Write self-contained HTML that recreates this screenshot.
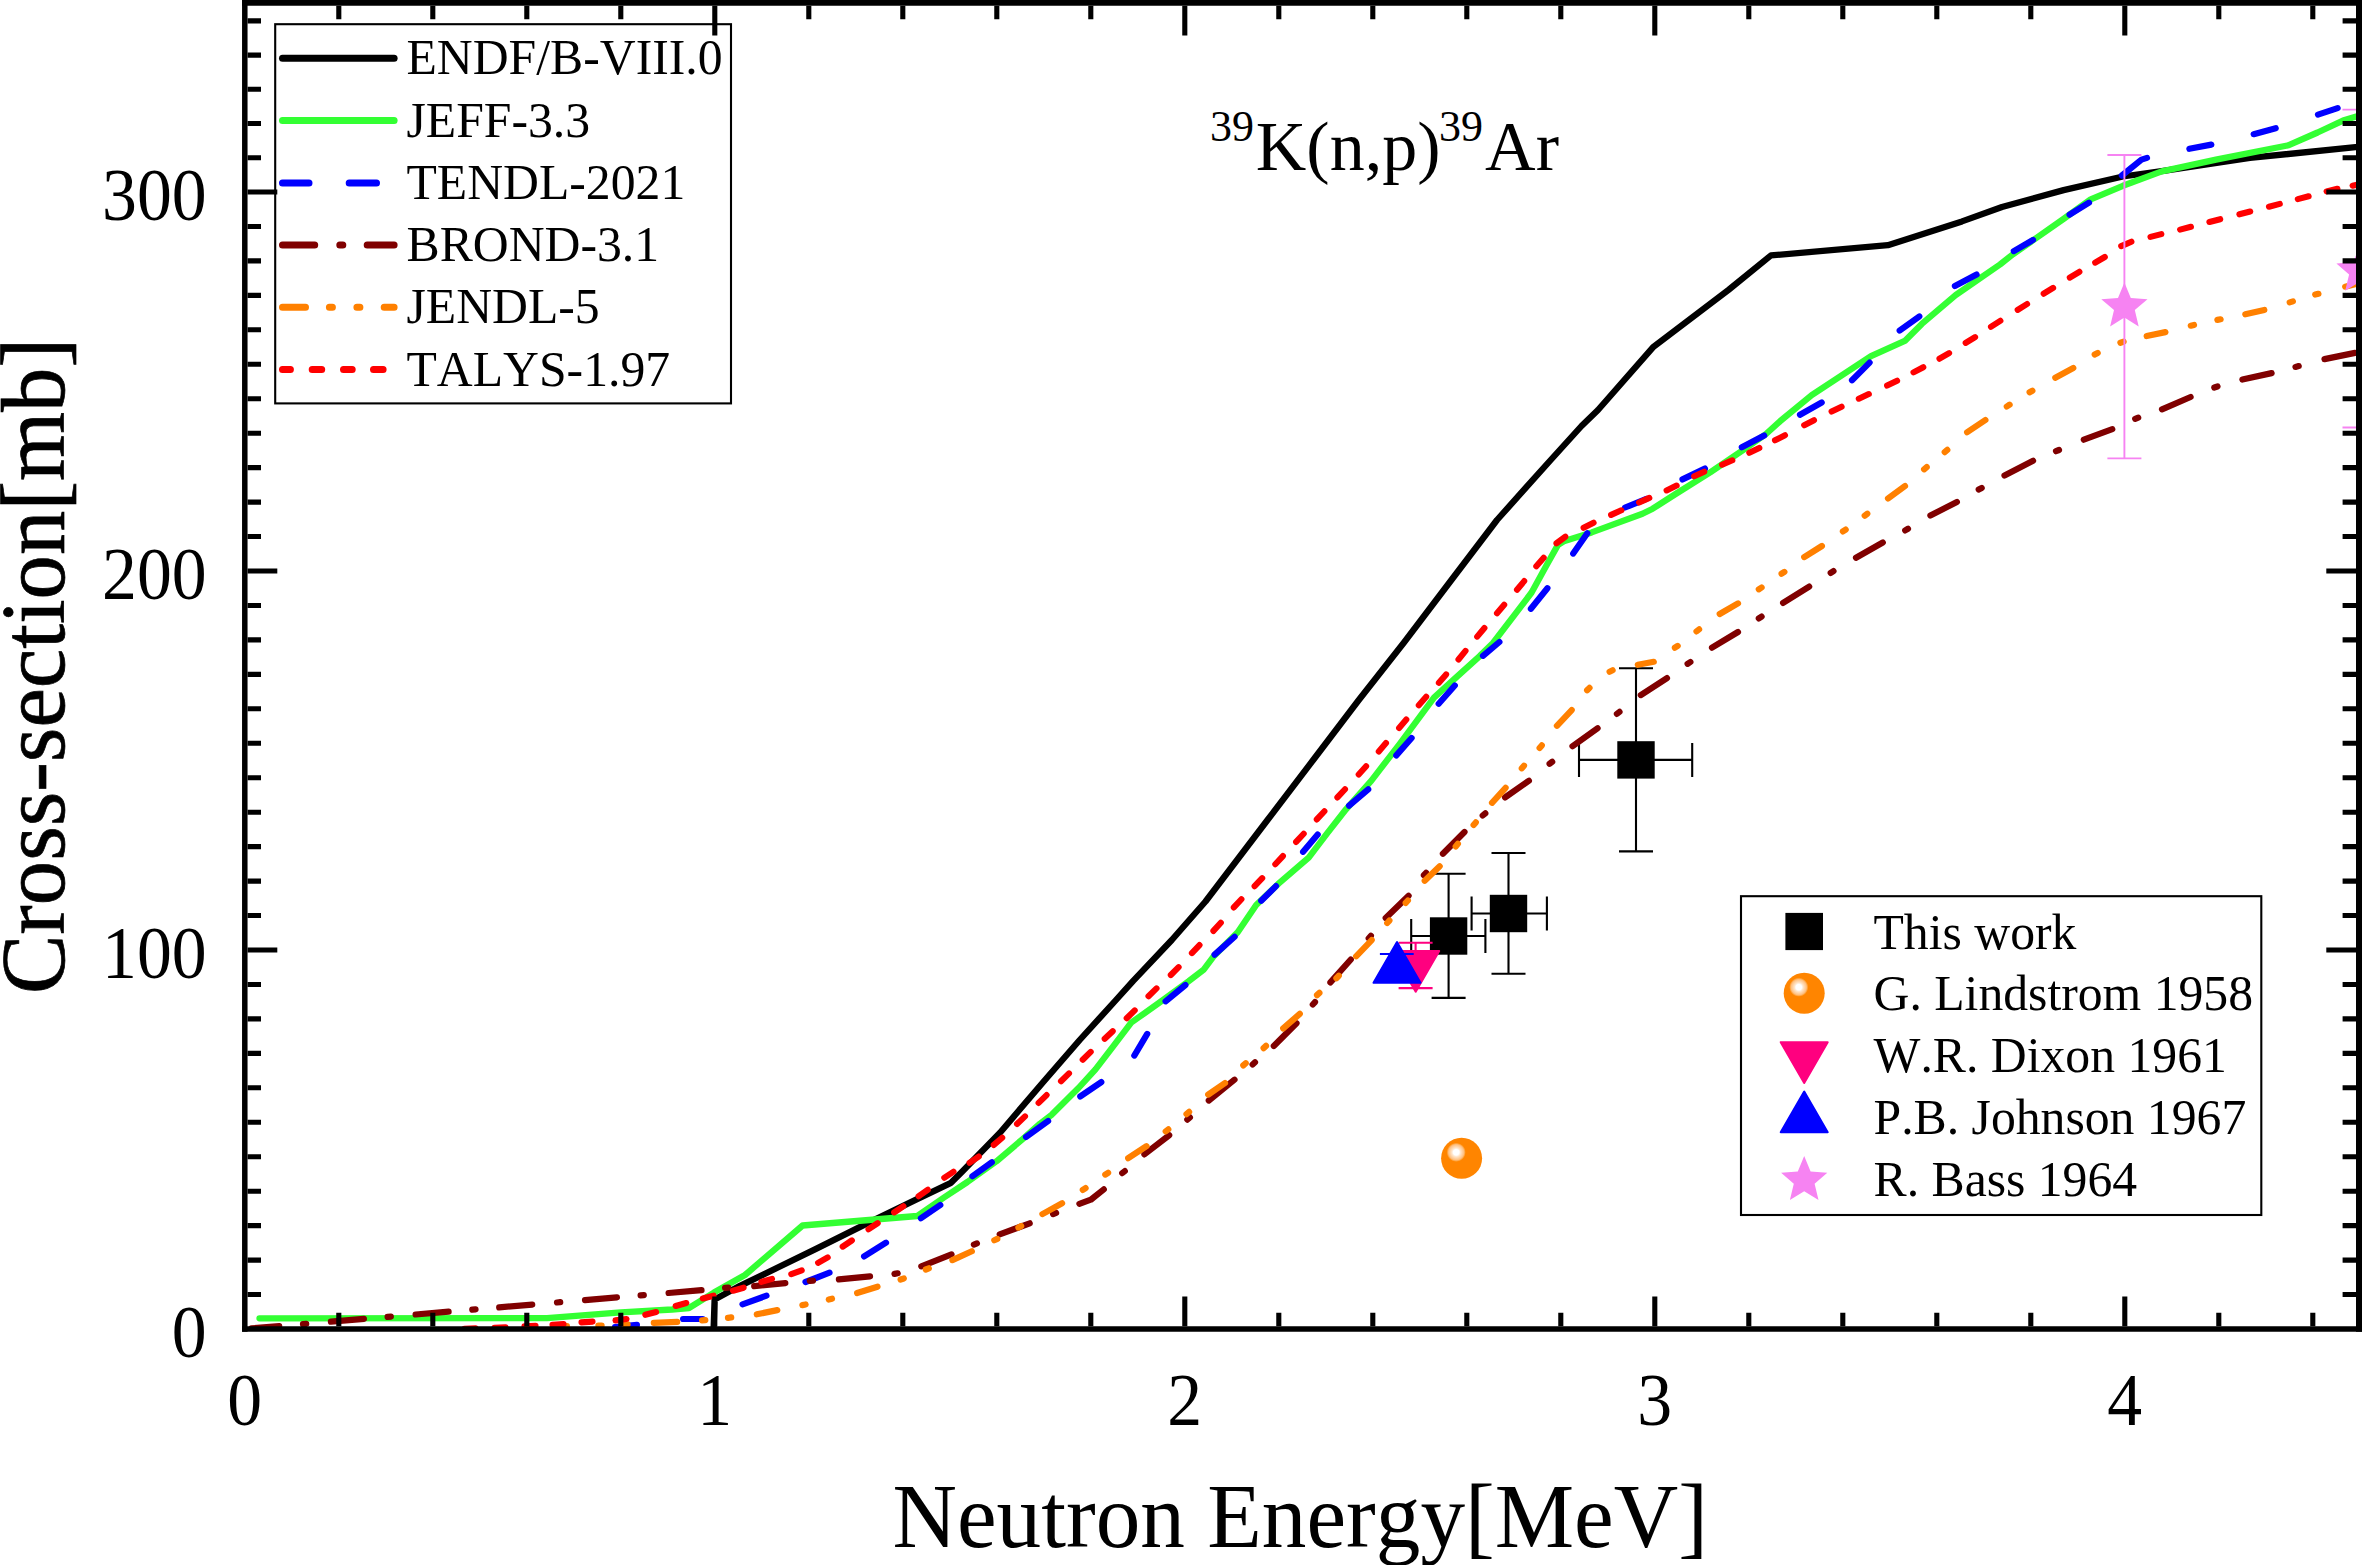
<!DOCTYPE html>
<html lang="en"><head><meta charset="utf-8"><title>39K(n,p)39Ar cross-section</title>
<style>html,body{margin:0;padding:0;background:#fff}body{width:2362px;height:1565px;overflow:hidden}svg{display:block}</style>
</head><body>
<svg width="2362" height="1565" viewBox="0 0 2362 1565" role="img" aria-label="39K(n,p)39Ar cross-section versus neutron energy">
<defs><radialGradient id="hl" cx="0.5" cy="0.5" r="0.5"><stop offset="0" stop-color="#ffffff"/><stop offset="0.3" stop-color="#ffffff"/><stop offset="0.45" stop-color="#ffe6cc"/><stop offset="0.8" stop-color="#ffc080"/><stop offset="1" stop-color="#ff8800"/></radialGradient>
<clipPath id="plot"><rect x="244.8" y="0" width="2117.2" height="1329"/></clipPath></defs>
<rect width="2362" height="1565" fill="#ffffff"/>
<g clip-path="url(#plot)">
<path d="M1448.6 873.8 V997.9 M1431.6 873.8 H1465.6 M1431.6 997.9 H1465.6" stroke="#000" stroke-width="2.1" fill="none" stroke-linecap="butt"/>
<path d="M1411.2 936 H1485.4 M1411.2 919 V953 M1485.4 919 V953" stroke="#000" stroke-width="2.1" fill="none"/>
<rect x="1429.9" y="917.3" width="37.4" height="37.4" fill="#000"/>
<path d="M1508.5 853 V973.8 M1491.5 853 H1525.5 M1491.5 973.8 H1525.5" stroke="#000" stroke-width="2.1" fill="none" stroke-linecap="butt"/>
<path d="M1471.6 913.5 H1546.9 M1471.6 896.5 V930.5 M1546.9 896.5 V930.5" stroke="#000" stroke-width="2.1" fill="none"/>
<rect x="1489.8" y="894.8" width="37.4" height="37.4" fill="#000"/>
<path d="M1636 668.3 V851.4 M1619 668.3 H1653 M1619 851.4 H1653" stroke="#000" stroke-width="2.1" fill="none" stroke-linecap="butt"/>
<path d="M1579 759.9 H1692.2 M1579 742.9 V776.9 M1692.2 742.9 V776.9" stroke="#000" stroke-width="2.1" fill="none"/>
<rect x="1617.3" y="741.2" width="37.4" height="37.4" fill="#000"/>
<path d="M713.6 1329 L714.6 1299.5 L740 1285.8 L815.5 1249.2 L869.7 1222.1 L917.1 1199.1 L951 1182.8 L961.8 1172 L1000 1132.7 L1045 1080 L1079.7 1040 L1116 1000 L1133.2 980.9 L1171.8 940 L1205.5 901.5 L1267.5 820 L1313.2 760 L1358.8 700 L1404 642.5 L1451.4 580 L1497 520 L1550.7 460 L1581.5 426 L1598 410 L1653.6 346.7 L1728.4 290 L1771 255.4 L1887.9 245.2 L1962 221.4 L2002 207 L2063.6 190.1 L2122.9 176.5 L2165.2 170.6 L2249.9 157.9 L2358 146.9" fill="none" stroke="#000000" stroke-width="6.3" stroke-linejoin="round" stroke-linecap="round" />
<path d="M259.5 1318.3 L547 1318.2 L621 1312.3 L672 1309.5 L689 1308 L713.9 1292.6 L745 1275 L802.6 1225.5 L917.1 1216 L944 1197.5 L967.4 1182 L996.5 1161.3 L1022.6 1139.1 L1040 1123.7 L1051.4 1115.1 L1078.5 1088 L1095.5 1069.3 L1112.4 1047.3 L1131 1022.8 L1139.5 1016.8 L1163.2 999.9 L1188.6 981.3 L1203.9 969.4 L1214 955.9 L1237.7 932.2 L1256.2 905 L1278.2 883.9 L1308.7 857.6 L1327.3 833.1 L1346 809.3 L1371.4 780.6 L1400.1 743.3 L1434 697.6 L1452.6 680.6 L1479.7 656.1 L1493 643 L1515.5 613.7 L1531.6 592.5 L1546 566.3 L1557.8 545.1 L1564.6 540.9 L1591.7 532.4 L1642.5 513.8 L1652.7 508.7 L1676.4 493.5 L1710.2 472.3 L1744.1 449.4 L1766 434 L1780 421.3 L1811.7 395.1 L1871 356.1 L1904.8 340.9 L1921.8 323.9 L1955.6 295.2 L1972.6 283.3 L2000 264.5 L2012.8 254.4 L2063.6 218.9 L2090.7 199.4 L2122.9 185.8 L2161.8 171.4 L2216 159.6 L2288.8 145.2 L2317.6 132.5 L2343 120.6 L2358 116" fill="none" stroke="#33ff33" stroke-width="6.3" stroke-linejoin="round" stroke-linecap="round" />
<path d="M615.1 1327.2 L636.9 1324.8 M683.1 1319 L702.6 1319 M742.5 1304.3 L766.5 1295.7 M805.5 1282 L829.5 1272.7 M864.1 1256.4 L886 1242.7 M920.9 1218.3 L940.3 1205 M972.4 1176.3 L991.8 1162.3 M1026 1137 L1048.1 1121.1 M1080.3 1096.4 L1101.3 1082.1 M1134.3 1055.6 L1147.2 1033.9 M1165.6 1001.3 L1185.4 985 M1214.6 954.6 L1234.6 936.8 M1261.2 900.8 L1276 886.1 M1303.1 851.8 L1317.7 834.6 M1349.1 805.7 L1368.2 789.3 M1396.3 755.4 L1411.6 738 M1438.7 703.7 L1454.8 685.5 M1483 655.8 L1499.4 642 M1530.9 608.8 L1547.4 588.2 M1573.2 553.6 L1587.3 533.2 M1625.1 507.5 L1646.4 498.9 M1682.5 479.4 L1704.9 468.6 M1741.8 447.2 L1764.2 435.6 M1800 414.7 L1821.7 402.5 M1852 380.2 L1869.6 362.6 M1899.7 330.6 L1919.3 316.4 M1954.9 286 L1976.6 274.6 M2013.8 251.1 L2033 239.9 M2069.6 214.7 L2089 202.7 M2121.9 175.5 L2141.5 159.6 L2147 157.9 M2189.4 148.8 L2211.3 144.6 M2253.7 134.2 L2275.7 128.2 M2318 114.6 L2337.6 108.1" fill="none" stroke="#0000ff" stroke-width="6.2" stroke-linecap="round" stroke-linejoin="round"/>
<path d="M251.6 1328.4 L279.2 1326.1 M330.9 1321.7 L363.9 1318.9 M415.6 1314.5 L448.6 1311.7 M499.2 1307.4 L532.2 1304.6 M585 1300.1 L616.9 1297.4 M668.6 1293 L701.5 1290.2 M303 1324.1 L306.2 1323.8 M387.6 1316.9 L390.8 1316.6 M472.3 1309.7 L475.5 1309.4 M557 1302.5 L560.2 1302.2 M640.6 1295.3 L643.8 1295.1 M725.1 1287.9 L728.3 1287.7 M754.2 1286.2 L785.3 1283.1 M809.8 1280.8 L813 1280.6 M838.9 1279.4 L870 1276.3 M894.5 1273.9 L897.7 1273.3 M921.3 1266.4 L951.5 1254.4 M973.9 1244.6 L976.9 1243.4 M999.7 1234.4 L1029.7 1223.3 M1053.1 1214.1 L1056.1 1212.9 M1079.4 1203.8 L1090.8 1199.7 L1103.8 1189.4 M1122.2 1173.1 L1124.8 1171.1 M1144.4 1154.4 L1169.2 1135.2 M1187.3 1119.6 L1189.9 1117.4 M1208.8 1100.5 L1234.5 1079.7 M1252.6 1064.5 L1255 1062.3 M1273.8 1046 L1296.5 1023.3 M1312.8 1004.5 L1315 1002.1 M1330.4 982.4 L1350.8 959.5 M1368.7 938.3 L1370.9 935.9 M1385.7 918 L1408.6 895.8 M1423.9 875.2 L1426.1 872.8 M1442.9 853.7 L1464.5 832 M1482.7 815.5 L1485.3 813.3 M1505.1 797.4 L1528.9 780.7 M1549.6 763.8 L1552.2 761.8 M1572.5 746.2 L1597.6 728.2 M1616.9 713.9 L1619.5 711.9 M1640.8 695.1 L1667 678.1 M1687.6 663.8 L1690.4 662 M1712 647.7 L1738 632 M1758.8 618.4 L1761.6 616.6 M1783.1 602.9 L1809.2 586.6 M1830.7 572.9 L1833.5 571.1 M1856 557.8 L1882.8 542.5 M1905.2 530.4 L1908 528.8 M1930.4 515.6 L1956.9 501.9 M1978.7 489.5 L1981.7 487.9 M2004.5 475.6 L2033.1 460.8 M2056 451.2 L2059 450 M2083.8 439.7 L2112.3 429.2 M2135.2 418.9 L2138.2 417.7 M2162 409.3 L2190.6 397 M2214.3 387.5 L2217.5 386.5 M2242.4 379.5 L2271.6 373.1 M2295.5 366.9 L2298.7 366.1 M2324.5 359.1 L2355 352.9" fill="none" stroke="#800000" stroke-width="6.2" stroke-linecap="round" stroke-linejoin="round"/>
<path d="M554.1 1326.4 L566.9 1326.1 M598.4 1325.5 L601.6 1325.5 M624.4 1324.6 L627.6 1324.4 M653.8 1322.9 L677.2 1321.9 M702.1 1320.3 L705.3 1320.1 M728 1317.8 L731.2 1317.4 M756.8 1314.3 L777.3 1310.1 M802.4 1305.1 L805.6 1304.5 M828.8 1299.5 L832 1298.7 M857.1 1293 L877.5 1286.7 M900.6 1279.5 L903.8 1278.5 M925.8 1269.5 L928.8 1268.3 M952.4 1260.1 L971.8 1251.3 M994.3 1240.3 L997.3 1238.9 M1018.4 1227.6 L1021.2 1226 M1042.4 1214.1 L1062.1 1203.3 M1082.8 1189.9 L1085.6 1188.1 M1105.3 1174.6 L1108.1 1172.8 M1128.2 1158.2 L1146.5 1146.2 M1165.7 1131.4 L1168.3 1129.4 M1186.5 1114.1 L1189.1 1111.9 M1208.2 1094.6 L1225 1083 M1243.3 1065.4 L1245.7 1063.2 M1263.6 1048.1 L1266 1045.9 M1283.2 1028.4 L1299.8 1013.8 M1317 995.1 L1319.4 992.9 M1336.4 978.2 L1338.8 975.8 M1356.1 956.3 L1371.7 940.1 M1387.2 923 L1389.4 920.6 M1405.7 902.9 L1407.9 900.5 M1424.7 880.8 L1439.7 866.3 M1455.7 846.4 L1457.9 843.8 M1473.6 825 L1475.8 822.4 M1492 802.8 L1505.6 787.9 M1521.8 768.3 L1524 765.7 M1539.6 748 L1541.8 745.4 M1556.9 725.8 L1571.7 710.1 M1587.1 690.3 L1589.5 687.9 M1609.6 671.7 L1612.6 670.3 M1637.8 664.8 L1653.8 661.8 M1674.9 647.7 L1677.7 645.9 M1696.5 631.4 L1699.1 629.4 M1719.7 614 L1738 603.4 M1758.8 589.3 L1761.6 587.5 M1781.6 573.7 L1784.4 571.9 M1804.2 557.1 L1821.9 546 M1842.9 531.4 L1845.7 529.6 M1864.7 515.7 L1867.3 513.7 M1888 498.5 L1905 486 M1924.1 469.3 L1926.7 467.1 M1944.7 452.1 L1947.3 449.9 M1967.1 432.3 L1985.4 420 M2006.8 406.5 L2009.6 404.7 M2029.6 392.3 L2032.4 390.7 M2055.3 377.7 L2073.3 368 M2094.7 354.6 L2097.7 353 M2120.4 342.7 L2123.6 341.7 M2146.7 336 L2165.4 332.1 M2190.8 325.7 L2194 324.9 M2217.4 319.9 L2220.6 319.3 M2245.3 314.3 L2264.3 309.9 M2289.7 302.4 L2292.9 301.4 M2315.2 294.6 L2318.4 293.8 M2345.2 286.7 L2355 284.3" fill="none" stroke="#ff8000" stroke-width="6.2" stroke-linecap="round" stroke-linejoin="round"/>
<path d="M464.5 1328.7 L475.5 1328.3 M494.5 1327.7 L505.5 1327.3 M524.5 1326.3 L535.5 1325.7 M552.5 1324.9 L563.5 1324.1 M581.5 1322.4 L592.5 1321.6 M615.5 1320.4 L626.5 1319 M645.3 1314.8 L656.1 1312 M675.7 1306 L686.3 1303 M702.8 1298.5 L713.6 1295.7 M733 1290.7 L743.6 1287.7 M761.4 1281.9 L772 1278.9 M791.3 1274.2 L801.7 1270.4 M818.1 1262.8 L827.7 1257.4 M842.7 1246.6 L851.9 1240.4 M868.5 1229.3 L877.7 1223.1 M894.2 1212.4 L903.4 1206.2 M918.6 1196.2 L927.8 1189.8 M944.3 1177.7 L953.5 1171.7 M969.6 1162.7 L978.8 1156.5 M993.8 1144.9 L1002.2 1137.7 M1017 1124 L1025 1116.4 M1038.6 1102.9 L1046.6 1095.1 M1061 1081.2 L1069 1073.4 M1082.7 1059.7 L1090.7 1051.9 M1104.7 1038.8 L1112.7 1031.2 M1126.7 1018.2 L1134.7 1010.4 M1148.5 996.2 L1156.5 988.4 M1170.8 975 L1178.6 967.2 M1191.9 953.1 L1199.5 945.1 M1213.4 930.9 L1220.8 922.7 M1233.8 907.4 L1241.4 899.2 M1254.6 886.2 L1262.2 878.2 M1275.3 864.3 L1282.9 856.1 M1296.1 841.9 L1303.7 833.7 M1316.8 819.4 L1324.4 811.2 M1337.4 797.4 L1345 789.2 M1358.7 774.5 L1366.1 766.3 M1378.8 751.4 L1386 743 M1399.1 728 L1406.3 719.6 M1418.8 705.2 L1426.2 696.8 M1438.9 682.8 L1446.1 674.4 M1458.5 659.5 L1465.5 650.9 M1477.2 636.6 L1484.4 628 M1497 613.2 L1504.2 604.8 M1517 589.7 L1524.2 581.1 M1536.3 566.2 L1543.7 557.8 M1556.5 543.3 L1565.3 536.7 M1583.6 527.8 L1593.6 522.8 M1611.1 514.9 L1621.3 510.3 M1639.1 502.5 L1649.3 497.9 M1666.6 490.4 L1676.6 485.6 M1694.2 476.3 L1704.2 471.7 M1722.1 464.7 L1732.3 460.3 M1749.3 452.7 L1759.3 447.9 M1775 440.3 L1785 435.3 M1804.2 425.2 L1814 420.2 M1831.6 411.5 L1841.6 406.7 M1858.8 398.7 L1868.8 394.1 M1887.1 385.6 L1897.1 380.8 M1913.5 372.4 L1923.3 367.2 M1939.5 358.7 L1949.1 353.1 M1965.7 342.9 L1975.1 337.1 M1991 326.8 L2000.4 320.8 M2017.7 309.8 L2027.1 304 M2043.7 293.7 L2053.1 287.9 M2069.8 277.6 L2079.4 271.8 M2095.2 262.6 L2104.8 257 M2121.2 246.1 L2131.4 241.7 M2150.5 236.9 L2161.3 234.1 M2180.1 229.6 L2190.9 226.8 M2209.4 222 L2220.2 219.2 M2239.4 214.3 L2250.2 211.5 M2269 206.7 L2279.8 203.9 M2297.8 199.1 L2308.6 196.3 M2326.6 191.4 L2337.4 188.8 M2352.6 185.7 L2363.4 183.3" fill="none" stroke="#ff0000" stroke-width="6.1" stroke-linecap="round"/>
<circle cx="1461.6" cy="1158.3" r="20.5" fill="#ff8500"/>
<circle cx="1456.2" cy="1152.3" r="9.6" fill="url(#hl)"/>
<path d="M1415.6 942.7 V988.1 M1398.6 942.7 H1432.6 M1398.6 988.1 H1432.6" stroke="#ff007f" stroke-width="2.1" fill="none" stroke-linecap="butt"/>
<path d="M1392.2 951 L1439.2 951 L1415.7 991.7 Z" fill="#ff007f" stroke="#ff007f" stroke-width="2" stroke-linejoin="round"/>
<path d="M1379.9 954 H1413.7" stroke="#0000ff" stroke-width="2.1"/>
<path d="M1373.5 982.8 L1420.5 982.8 L1397 942.1 Z" fill="#0000ff" stroke="#0000ff" stroke-width="2" stroke-linejoin="round"/>
<path d="M2124.4 155 V458.4 M2107.4 155 H2141.4 M2107.4 458.4 H2141.4" stroke="#f683f2" stroke-width="1.9" fill="none" stroke-linecap="butt"/>
<polygon points="2124.4,282.4 2130.8,297.9 2147.5,299.2 2134.8,310.1 2138.7,326.4 2124.4,317.6 2110.1,326.4 2114,310.1 2101.3,299.2 2118,297.9" fill="#f683f2"/>
<path d="M2359.5 109.6 V427.5 M2342.5 109.6 H2376.5 M2342.5 427.5 H2376.5" stroke="#f683f2" stroke-width="1.9" fill="none" stroke-linecap="butt"/>
<polygon points="2359.5,246.7 2365.9,262.2 2382.6,263.5 2369.9,274.4 2373.8,290.7 2359.5,281.9 2345.2,290.7 2349.1,274.4 2336.4,263.5 2353.1,262.2" fill="#f683f2"/>
</g>
<g stroke="#000" fill="none" stroke-linecap="butt">
<path d="M244.8 0 V1331.8" stroke-width="5.5"/>
<path d="M242.1 1329 H2362" stroke-width="5.5"/>
<path d="M242.1 2.85 H2362" stroke-width="5.7"/>
<path d="M2359 0 V1331.8" stroke-width="6"/>
<path d="M338.8 1326.2 v-13.4 M338.8 5.8 v13.4 M432.8 1326.2 v-13.4 M432.8 5.8 v13.4 M526.8 1326.2 v-13.4 M526.8 5.8 v13.4 M620.8 1326.2 v-13.4 M620.8 5.8 v13.4 M714.8 1326.2 v-29.7 M714.8 5.8 v29.7 M808.8 1326.2 v-13.4 M808.8 5.8 v13.4 M902.8 1326.2 v-13.4 M902.8 5.8 v13.4 M996.8 1326.2 v-13.4 M996.8 5.8 v13.4 M1090.8 1326.2 v-13.4 M1090.8 5.8 v13.4 M1184.8 1326.2 v-29.7 M1184.8 5.8 v29.7 M1278.8 1326.2 v-13.4 M1278.8 5.8 v13.4 M1372.8 1326.2 v-13.4 M1372.8 5.8 v13.4 M1466.8 1326.2 v-13.4 M1466.8 5.8 v13.4 M1560.8 1326.2 v-13.4 M1560.8 5.8 v13.4 M1654.8 1326.2 v-29.7 M1654.8 5.8 v29.7 M1748.8 1326.2 v-13.4 M1748.8 5.8 v13.4 M1842.8 1326.2 v-13.4 M1842.8 5.8 v13.4 M1936.8 1326.2 v-13.4 M1936.8 5.8 v13.4 M2030.8 1326.2 v-13.4 M2030.8 5.8 v13.4 M2124.8 1326.2 v-29.7 M2124.8 5.8 v29.7 M2218.8 1326.2 v-13.4 M2218.8 5.8 v13.4 M2312.8 1326.2 v-13.4 M2312.8 5.8 v13.4 M247.6 1294.5 h13.4 M2356 1294.5 h-13.4 M247.6 1260.1 h13.4 M2356 1260.1 h-13.4 M247.6 1225.6 h13.4 M2356 1225.6 h-13.4 M247.6 1191.2 h13.4 M2356 1191.2 h-13.4 M247.6 1156.7 h13.4 M2356 1156.7 h-13.4 M247.6 1122.3 h13.4 M2356 1122.3 h-13.4 M247.6 1087.8 h13.4 M2356 1087.8 h-13.4 M247.6 1053.4 h13.4 M2356 1053.4 h-13.4 M247.6 1018.9 h13.4 M2356 1018.9 h-13.4 M247.6 984.5 h13.4 M2356 984.5 h-13.4 M247.6 950 h29.7 M2356 950 h-29.7 M247.6 915.5 h13.4 M2356 915.5 h-13.4 M247.6 881.1 h13.4 M2356 881.1 h-13.4 M247.6 846.6 h13.4 M2356 846.6 h-13.4 M247.6 812.2 h13.4 M2356 812.2 h-13.4 M247.6 777.7 h13.4 M2356 777.7 h-13.4 M247.6 743.3 h13.4 M2356 743.3 h-13.4 M247.6 708.8 h13.4 M2356 708.8 h-13.4 M247.6 674.4 h13.4 M2356 674.4 h-13.4 M247.6 639.9 h13.4 M2356 639.9 h-13.4 M247.6 605.5 h13.4 M2356 605.5 h-13.4 M247.6 571 h29.7 M2356 571 h-29.7 M247.6 536.5 h13.4 M2356 536.5 h-13.4 M247.6 502.1 h13.4 M2356 502.1 h-13.4 M247.6 467.6 h13.4 M2356 467.6 h-13.4 M247.6 433.2 h13.4 M2356 433.2 h-13.4 M247.6 398.7 h13.4 M2356 398.7 h-13.4 M247.6 364.3 h13.4 M2356 364.3 h-13.4 M247.6 329.8 h13.4 M2356 329.8 h-13.4 M247.6 295.4 h13.4 M2356 295.4 h-13.4 M247.6 260.9 h13.4 M2356 260.9 h-13.4 M247.6 226.5 h13.4 M2356 226.5 h-13.4 M247.6 192 h29.7 M2356 192 h-29.7 M247.6 157.8 h13.4 M2356 157.8 h-13.4 M247.6 123.5 h13.4 M2356 123.5 h-13.4 M247.6 89.3 h13.4 M2356 89.3 h-13.4 M247.6 55.1 h13.4 M2356 55.1 h-13.4 M247.6 20.9 h13.4 M2356 20.9 h-13.4" stroke-width="5.1"/>
</g>
<rect x="275.2" y="24.2" width="455.8" height="379.2" fill="none" stroke="#000" stroke-width="2.1"/>
<g fill="none" stroke-width="7" stroke-linecap="round">
<path d="M282.5 58.3 H394.1" stroke="#000"/>
<path d="M282.5 120.5 H394.1" stroke="#33ff33"/>
<path d="M282.5 183 H309 M349.2 183 H376.5" stroke="#0000ff"/>
<path d="M282.5 245.1 H314.7 M339.8 245.1 h3 M367.2 245.1 H394.1" stroke="#800000"/>
<path d="M282.5 307.3 H305.5 M329.4 307.3 h3 M356.9 307.3 h3 M384.2 307.3 H394.1" stroke="#ff8000"/>
<path d="M282.5 369.4 H290.4 M312.2 369.4 H321.7 M343.5 369.4 H352.2 M373.5 369.4 H383.1" stroke="#ff0000"/>
</g>
<g font-family='"Liberation Serif", "Times New Roman", Times, serif' fill="#000" style="font-kerning:none;font-variant-ligatures:none">
<text x="406.5" y="73.6" font-size="49.7" text-anchor="start" >ENDF/B-VIII.0</text>
<text x="406.5" y="136.6" font-size="49.7" text-anchor="start" >JEFF-3.3</text>
<text x="406.5" y="198.6" font-size="49.7" text-anchor="start" >TENDL-2021</text>
<text x="406.5" y="260.6" font-size="49.7" text-anchor="start" >BROND-3.1</text>
<text x="406.5" y="322.8" font-size="49.7" text-anchor="start" >JENDL-5</text>
<text x="406.5" y="386" font-size="49.7" text-anchor="start" >TALYS-1.97</text>
<rect x="1741" y="896.2" width="520.3" height="318.8" fill="none" stroke="#000" stroke-width="2.1"/>
<rect x="1785.4" y="912.9" width="37.6" height="37.2" fill="#000"/>
<circle cx="1804.2" cy="993.2" r="20.5" fill="#ff8500"/>
<circle cx="1798.8" cy="987.2" r="9.6" fill="url(#hl)"/>
<path d="M1780.7 1042.2 L1827.7 1042.2 L1804.2 1082.9 Z" fill="#ff007f" stroke="#ff007f" stroke-width="2" stroke-linejoin="round"/>
<path d="M1780.7 1132.2 L1827.7 1132.2 L1804.2 1091.5 Z" fill="#0000ff" stroke="#0000ff" stroke-width="2" stroke-linejoin="round"/>
<polygon points="1804.2,1156 1810.6,1171.5 1827.3,1172.8 1814.6,1183.7 1818.5,1200 1804.2,1191.2 1789.9,1200 1793.8,1183.7 1781.1,1172.8 1797.8,1171.5" fill="#f683f2"/>
<text x="1873.5" y="948.6" font-size="49.7" text-anchor="start" >This work</text>
<text x="1873.5" y="1009.9" font-size="49.7" text-anchor="start" >G. Lindstrom 1958</text>
<text x="1873.5" y="1071.6" font-size="49.7" text-anchor="start" >W.R. Dixon 1961</text>
<text x="1873.5" y="1134.1" font-size="49.7" text-anchor="start" >P.B. Johnson 1967</text>
<text x="1873.5" y="1196.4" font-size="49.7" text-anchor="start" >R. Bass 1964</text>
<text transform="translate(206.6 1357.2) scale(0.955 1)" font-size="73" text-anchor="end" >0</text>
<text transform="translate(206.6 978.2) scale(0.955 1)" font-size="73" text-anchor="end" >100</text>
<text transform="translate(206.6 599.2) scale(0.955 1)" font-size="73" text-anchor="end" >200</text>
<text transform="translate(206.6 220.2) scale(0.955 1)" font-size="73" text-anchor="end" >300</text>
<text transform="translate(244.8 1424.9) scale(0.955 1)" font-size="73" text-anchor="middle" >0</text>
<text transform="translate(714.8 1424.9) scale(0.955 1)" font-size="73" text-anchor="middle" >1</text>
<text transform="translate(1184.8 1424.9) scale(0.955 1)" font-size="73" text-anchor="middle" >2</text>
<text transform="translate(1654.8 1424.9) scale(0.955 1)" font-size="73" text-anchor="middle" >3</text>
<text transform="translate(2124.8 1424.9) scale(0.955 1)" font-size="73" text-anchor="middle" >4</text>
<text transform="translate(1300.2 1546.7) scale(0.981 1)" font-size="91" text-anchor="middle" >Neutron Energy[MeV]</text>
<text transform="translate(64 666) rotate(-90) scale(0.976 1)" font-size="91" text-anchor="middle" stroke="#000" stroke-width="0.7">Cross-section[mb]</text>
<text x="1210.1" y="169.8" font-size="70"><tspan font-size="44" dy="-29">39</tspan><tspan dy="29" dx="1.7">K(n,p)</tspan><tspan font-size="44" dy="-29" dx="-1.4">39</tspan><tspan dy="29" dx="2">Ar</tspan></text>
</g>
</svg>
</body></html>
